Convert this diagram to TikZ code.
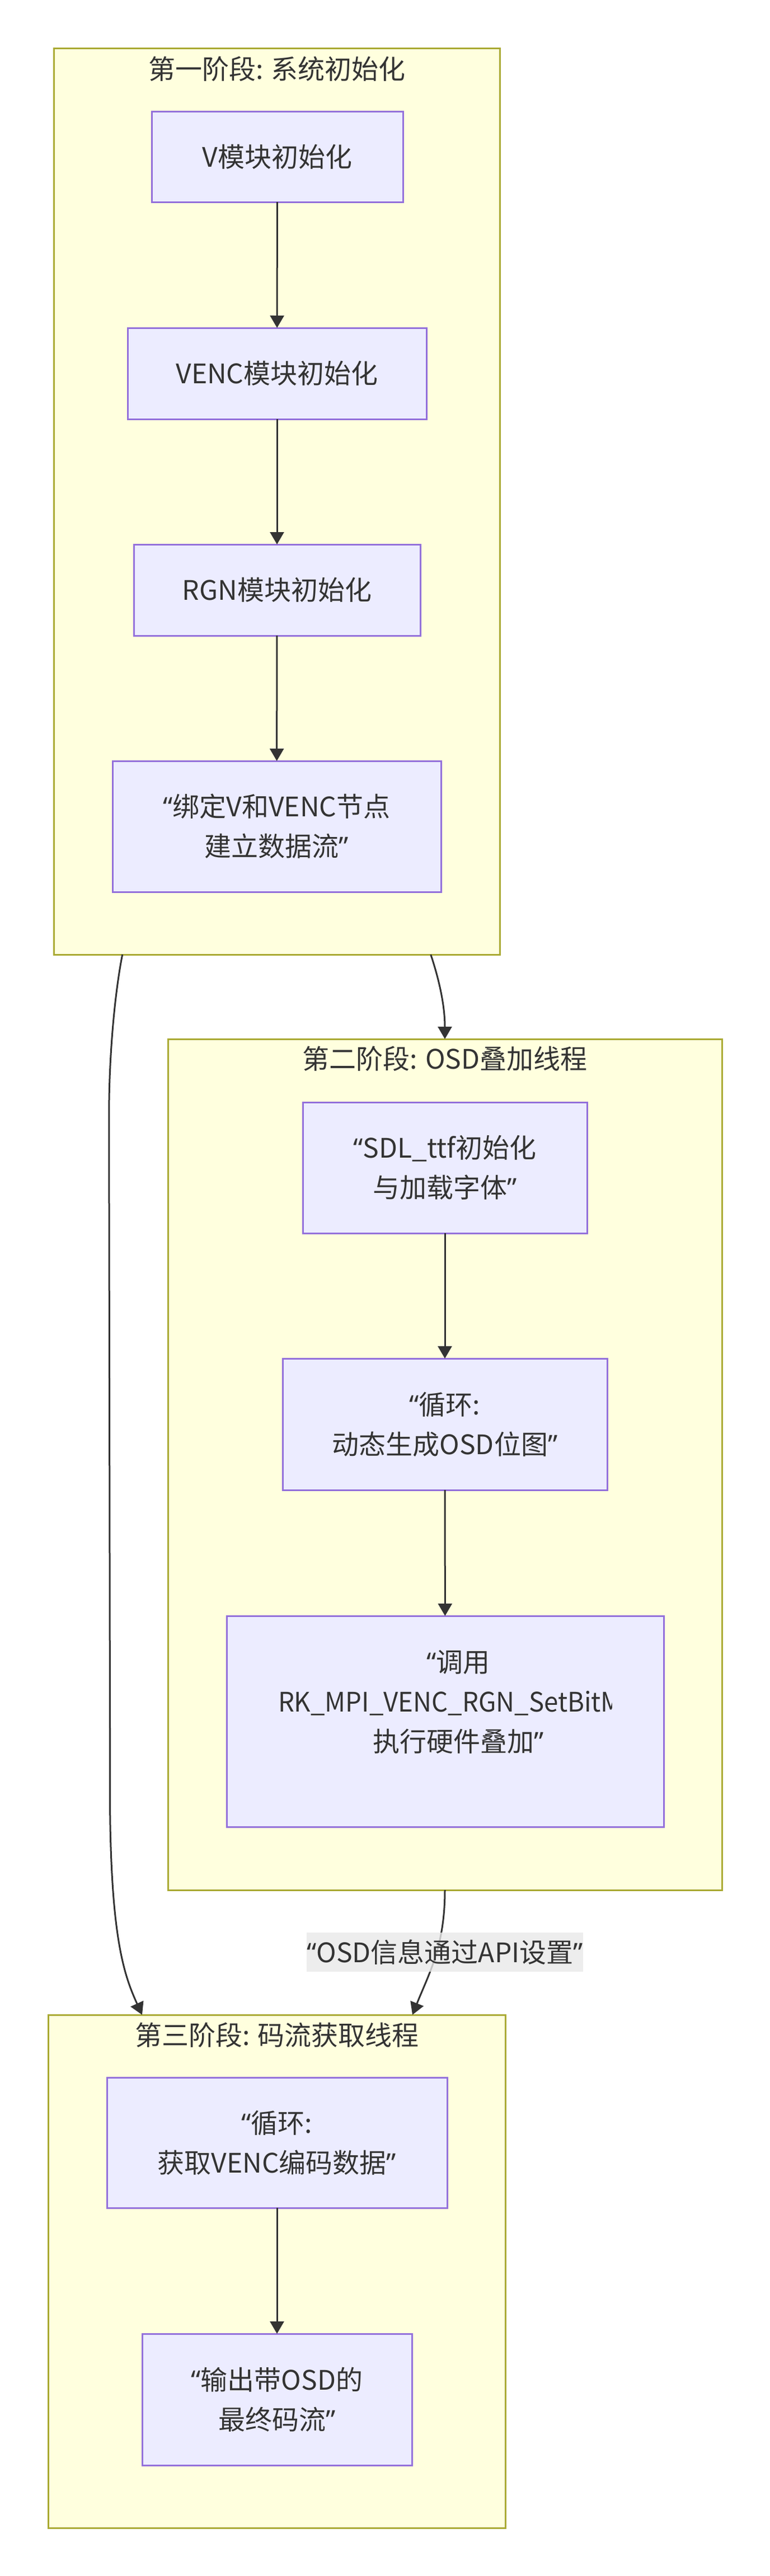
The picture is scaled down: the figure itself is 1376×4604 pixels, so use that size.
\documentclass[tikz,border=0pt]{standalone}
\usepackage{fontspec}
\newfontfamily\cjk{Noto Sans CJK SC}
\newfontfamily\quotefont{Noto Sans}
\usetikzlibrary{arrows.meta,calc}
\definecolor{clusterfill}{HTML}{FFFFDE}
\definecolor{clusterline}{HTML}{AAAA33}
\definecolor{boxfill}{HTML}{ECECFF}
\definecolor{boxline}{HTML}{9370DB}
\definecolor{inkgray}{HTML}{333333}
\definecolor{lblgray}{HTML}{E8E8E8}
\newcommand\pxu{0.25pt}
\newcommand\qo{{\quotefont “}}
\newcommand\qc{{\quotefont ”}}
\tikzset{
  wh/.style 2 args={minimum width=#1*\pxu,minimum height=#2*\pxu},
  phase/.style={draw=clusterline,fill=clusterfill,line width=0.75pt,inner sep=0pt,outer sep=0pt},
  phasetitle/.style={inner sep=0pt,text=inkgray,font=\cjk\fontsize{12pt}{15pt}\selectfont},
  stage/.style={draw=boxline,fill=boxfill,line width=0.75pt,inner sep=0pt,outer sep=0pt,text=inkgray,align=center,font=\cjk\fontsize{12pt}{17.75pt}\selectfont},
  stagetext/.style={inner sep=0pt,text=inkgray,align=center,font=\cjk\fontsize{12pt}{17.75pt}\selectfont},
  flow/.style={draw=inkgray,line width=0.75pt,-{Triangle[length=5.5pt,width=6.2pt]}},
  flowlabel/.style={fill=lblgray,fill opacity=0.8,text opacity=1,inner sep=0pt,text=inkgray,font=\cjk\fontsize{12pt}{15pt}\selectfont}
}
\begin{document}
\begin{tikzpicture}[x=0.25pt,y=0.25pt,yscale=-1,xscale=1]
\useasboundingbox (0,0) rectangle (1376,4604);

%Shape: Rectangle [phase 1]
\node[phase,wh={796.5}{1620}] (c1) at (494.75,896) {};
%Shape: Rectangle [phase 2]
\node[phase,wh={990}{1521}] (c2) at (795,2617.5) {};
%Shape: Rectangle [phase 3]
\node[phase,wh={817}{917}] (c3) at (494.5,4059.5) {};
% Text Node
\node[phasetitle] (t1) at (495,123) {第一阶段: 系统初始化};
% Text Node
\node[phasetitle] (t2) at (795,1892) {第二阶段: OSD叠加线程};
% Text Node
\node[phasetitle] (t3) at (495,3637) {第三阶段: 码流获取线程};

%Shape: Rectangle [phase 1 steps]
\node[stage,wh={449}{162}] (vinit) at (495.5,280) {V模块初始化};
\node[stage,wh={534}{163}] (vencinit) at (495,667.5) {VENC模块初始化};
\node[stage,wh={512}{163}] (rgninit) at (495,1054.5) {RGN模块初始化};
\node[stage,wh={587}{234}] (bind) at (494.5,1477) {\qo 绑定V和VENC节点\\建立数据流\qc};
%Shape: Rectangle [phase 2 steps]
\node[stage,wh={508}{234}] (ttfinit) at (795,2087) {\qo SDL\_ttf初始化\\与加载字体\qc};
\node[stage,wh={580}{235}] (osdloop) at (795,2545.5) {\qo 循环:\\动态生成OSD位图\qc};
\node[stage,wh={781}{377}] (setbit) at (795.5,3076.5) {};
\begin{scope}
\clip (setbit.north west) rectangle ($(setbit.south west)+(688,0)$);
\node[stagetext] (setbittxt) at ($(setbit.center)+(23.5,-34.5)$) {\qo 调用\\\makebox[161pt][l]{\scalebox{0.95}[1]{RK\_MPI\_VENC\_RGN\_SetBitM}}\\执行硬件叠加\qc};
\end{scope}
%Shape: Rectangle [phase 3 steps]
\node[stage,wh={608}{233}] (getloop) at (495,3829.5) {\qo 循环:\\获取VENC编码数据\qc};
\node[stage,wh={482}{235}] (output) at (495,4288.5) {\qo 输出带OSD的\\最终码流\qc};

%Straight Lines
\draw[flow] (vinit) -- (vencinit);
\draw[flow] (vencinit) -- (rgninit);
\draw[flow] (rgninit) -- (bind);
\draw[flow] (ttfinit) -- (osdloop);
\draw[flow] (osdloop) -- (setbit);
\draw[flow] (getloop) -- (output);
%Curve Lines
\draw[flow] ($(c1.south)+(275,0)$) .. controls +(15,45) and +(0,-60) .. (c2.north);
\draw[flow] ($(c1.south)+(-276,0)$) .. controls +(-12,60) and +(0,-120) .. ++(-24,290) -- ++(2,1250) .. controls +(3,220) and +(-32,-70) .. ($(c3.north)+(-240.5,0)$);
\draw[flow] (c2.south) .. controls +(0,100) and +(30,-75) .. ($(c3.north)+(242.5,0)$);
% Text Node
\node[flowlabel,wh={492}{70}] (osdapi) at ($(c2.south)+(0,111)$) {\qo OSD信息通过API设置\qc};
\end{tikzpicture}
\end{document}
